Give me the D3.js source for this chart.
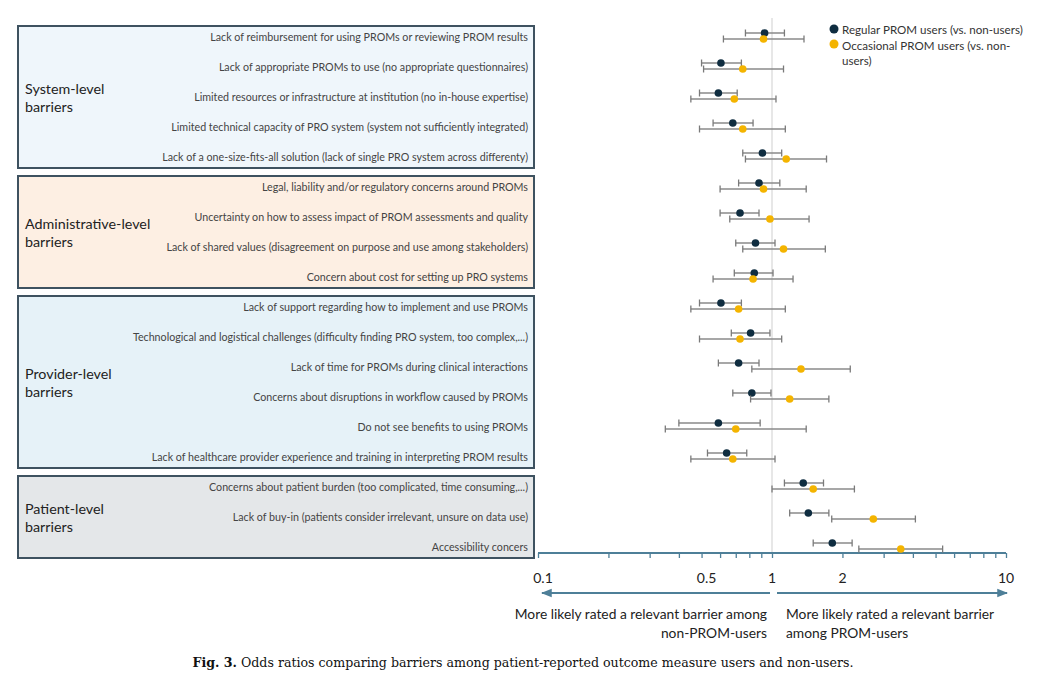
<html>
<head>
<script src="https://d3js.org/d3.v7.min.js"></script>
<style>
  body { margin: 0; background: #fff; }
  text { font-family: Lato, "Open Sans", sans-serif; }
</style>
</head>
<body>
<svg width="1050" height="694"></svg>

<script>
// barrier groups and their row counts
var groups = ["System-level barriers", "Administrative-level barriers", "Provider-level barriers", "Patient-level barriers"];
var groupSizes = [5, 4, 6, 3];

var labels = [
  "Lack of reimbursement for using PROMs or reviewing PROM results",
  "Lack of appropriate PROMs to use (no appropriate questionnaires)",
  "Limited resources or infrastructure at institution (no in-house expertise)",
  "Limited technical capacity of PRO system (system not sufficiently integrated)",
  "Lack of a one-size-fits-all solution (lack of single PRO system across differenty)",
  "Legal, liability and/or regulatory concerns around PROMs",
  "Uncertainty on how to assess impact of PROM assessments and quality",
  "Lack of shared values (disagreement on purpose and use among stakeholders) ",
  "Concern about cost for setting up PRO systems",
  "Lack of support regarding how to implement and use PROMs",
  "Technological and logistical challenges (difficulty finding PRO system, too complex,...)",
  "Lack of time for PROMs during clinical interactions",
  "Concerns about disruptions in workflow caused by PROMs",
  "Do not see benefits to using PROMs",
  "Lack of healthcare provider experience and training in interpreting PROM results",
  "Concerns about patient burden (too complicated, time consuming,...)",
  "Lack of buy-in (patients consider irrelevant, unsure on data use)",
  "Accessibility concers"
];

// regular PROM users vs non-users: odds ratio and 95% CI
var regOR = [0.93, 0.605, 0.59, 0.68, 0.91, 0.88, 0.73, 0.85, 0.84, 0.605, 0.81, 0.72, 0.82, 0.59, 0.64, 1.36, 1.43, 1.81];
var regLo = [0.77, 0.50, 0.49, 0.56, 0.75, 0.72, 0.60, 0.70, 0.69, 0.49, 0.67, 0.59, 0.68, 0.40, 0.53, 1.13, 1.19, 1.50];
var regHi = [1.13, 0.74, 0.71, 0.83, 1.10, 1.08, 0.88, 1.03, 1.01, 0.74, 0.98, 0.88, 0.99, 0.89, 0.78, 1.66, 1.75, 2.20];

// occasional PROM users vs non-users
var occOR = [0.92, 0.75, 0.69, 0.75, 1.15, 0.92, 0.98, 1.12, 0.83, 0.72, 0.73, 1.33, 1.19, 0.70, 0.68, 1.50, 2.71, 3.55];
var occLo = [0.62, 0.51, 0.45, 0.49, 0.77, 0.60, 0.66, 0.75, 0.56, 0.45, 0.49, 0.82, 0.81, 0.35, 0.45, 1.00, 1.80, 2.35];
var occHi = [1.37, 1.12, 1.04, 1.14, 1.71, 1.40, 1.44, 1.69, 1.23, 1.14, 1.10, 2.16, 1.75, 1.40, 1.03, 2.25, 4.10, 5.36];

var tickValues = [0.1, 0.5, 1, 2, 10];
var seriesNames = ["Regular PROM users (vs. non-users)", "Occasional PROM users (vs. non-users)"];

var colReg = "#0f2d40", colOcc = "#f4b400";
var boxFill = ["#eff6fb", "#fdefe3", "#e6f2f8", "#e4e7e9"];

var svg = d3.select("svg");

var x = d3.scaleLog().domain([0.1, 10]).range([538, 1006]);
var y = d3.scalePoint().domain(d3.range(labels.length)).range([37, 547]);

// group boxes
var start = 0;
groups.forEach(function(g, gi) {
  var first = start, last = start + groupSizes[gi] - 1;
  var top = y(first) - 11, bot = y(last) + 11;
  svg.append("rect")
    .attr("x", 18).attr("y", top)
    .attr("width", 516).attr("height", bot - top)
    .attr("fill", boxFill[gi])
    .attr("stroke", "#3e5260").attr("stroke-width", 2);
  var words = g.split(" ");
  var mid = (top + bot) / 2;
  svg.append("text").attr("x", 25).attr("y", mid - 3)
    .attr("font-size", 14.3).attr("fill", "#222").text(words[0]);
  svg.append("text").attr("x", 25).attr("y", mid + 15)
    .attr("font-size", 14.3).attr("fill", "#222").text(words[1]);
  start += groupSizes[gi];
});

// row labels
svg.selectAll("text.lab").data(labels).enter().append("text")
  .attr("class", "lab")
  .attr("x", 528).attr("y", (d, i) => y(i) + 4)
  .attr("text-anchor", "end")
  .attr("font-size", 10.7).attr("fill", "#444")
  .text(d => d);

// reference line at 1
svg.append("line")
  .attr("x1", x(1)).attr("x2", x(1))
  .attr("y1", 18).attr("y2", 553)
  .attr("stroke", "#cfcfcf").attr("stroke-width", 1);

// axis
var axis = d3.axisBottom(x)
  .tickValues(d3.range(1, 10).map(d => d / 10).concat(d3.range(1, 11)))
  .tickSize(5).tickFormat("");
var ax = svg.append("g").attr("transform", "translate(0,553)").call(axis);
ax.selectAll("path, line").attr("stroke", "#4e7f98").attr("stroke-width", 1.3);
ax.select("path").attr("stroke-width", 2).attr("d", "M538,0H1006");

svg.selectAll("text.tl").data(tickValues).enter().append("text")
  .attr("class", "tl")
  .attr("x", d => x(d) + (d == 0.1 ? 5 : d == 0.5 ? 5 : 0))
  .attr("y", 583).attr("text-anchor", "middle")
  .attr("font-size", 14).attr("fill", "#222")
  .text(d => d);

// error bars and dots
function series(or, lo, hi, dy, col) {
  var g = svg.append("g");
  var rows = g.selectAll("g").data(or).enter().append("g");
  rows.append("line")
    .attr("x1", (d, i) => x(lo[i])).attr("x2", (d, i) => x(hi[i]))
    .attr("y1", (d, i) => y(i) + dy).attr("y2", (d, i) => y(i) + dy)
    .attr("stroke", "#8a8a8a").attr("stroke-width", 1.6);
  [lo, hi].forEach(function(arr) {
    rows.append("line")
      .attr("x1", (d, i) => x(arr[i])).attr("x2", (d, i) => x(arr[i]))
      .attr("y1", (d, i) => y(i) + dy - 3.5).attr("y2", (d, i) => y(i) + dy + 3.5)
      .attr("stroke", "#7a7a7a").attr("stroke-width", 1.3);
  });
  rows.append("circle")
    .attr("cx", d => x(d)).attr("cy", (d, i) => y(i) + dy)
    .attr("r", 3.8).attr("fill", col);
}
series(regOR, regLo, regHi, -4, colReg);
series(occOR, occLo, occHi, 2, colOcc);

// legend
svg.append("circle").attr("cx", 834).attr("cy", 29).attr("r", 4.5).attr("fill", colReg);
svg.append("circle").attr("cx", 834).attr("cy", 44).attr("r", 4.5).attr("fill", colOcc);
svg.append("text").attr("x", 842).attr("y", 34).attr("font-size", 11.6).attr("fill", "#333").text(seriesNames[0]);
svg.append("text").attr("x", 842).attr("y", 50).attr("font-size", 11.6).attr("fill", "#333").text("Occasional PROM users (vs. non-");
svg.append("text").attr("x", 842).attr("y", 65).attr("font-size", 11.6).attr("fill", "#333").text("users)");

// direction arrows
svg.append("defs").append("marker")
  .attr("id", "ah").attr("viewBox", "0 0 10 10").attr("refX", 9).attr("refY", 5)
  .attr("markerWidth", 6).attr("markerHeight", 6).attr("orient", "auto-start-reverse")
  .append("path").attr("d", "M0,1L10,5L0,9z").attr("fill", "#4e7f98");
svg.append("line").attr("x1", 770).attr("x2", 542).attr("y1", 593).attr("y2", 593)
  .attr("stroke", "#4e7f98").attr("stroke-width", 1.8).attr("marker-end", "url(#ah)");
svg.append("line").attr("x1", 777).attr("x2", 1007).attr("y1", 593).attr("y2", 593)
  .attr("stroke", "#4e7f98").attr("stroke-width", 1.8).attr("marker-end", "url(#ah)");

var note = svg.append("g").attr("font-size", 13.8).attr("fill", "#222");
note.append("text").attr("x", 767).attr("y", 619).attr("text-anchor", "end").text("More likely rated a relevant barrier among");
note.append("text").attr("x", 767).attr("y", 638).attr("text-anchor", "end").text("non-PROM-users");
note.append("text").attr("x", 786).attr("y", 619).text("More likely rated a relevant barrier");
note.append("text").attr("x", 786).attr("y", 638).text("among PROM-users");

// caption
var cap = svg.append("text").attr("x", 523).attr("y", 667).attr("text-anchor", "middle")
  .attr("font-size", 12.6).attr("fill", "#111")
  .style("font-family", "'DejaVu Serif', 'Liberation Serif', serif");
cap.append("tspan").attr("font-weight", "bold").text("Fig. 3.");
cap.append("tspan").text(" Odds ratios comparing barriers among patient-reported outcome measure users and non-users.");
</script>
</body>
</html>
